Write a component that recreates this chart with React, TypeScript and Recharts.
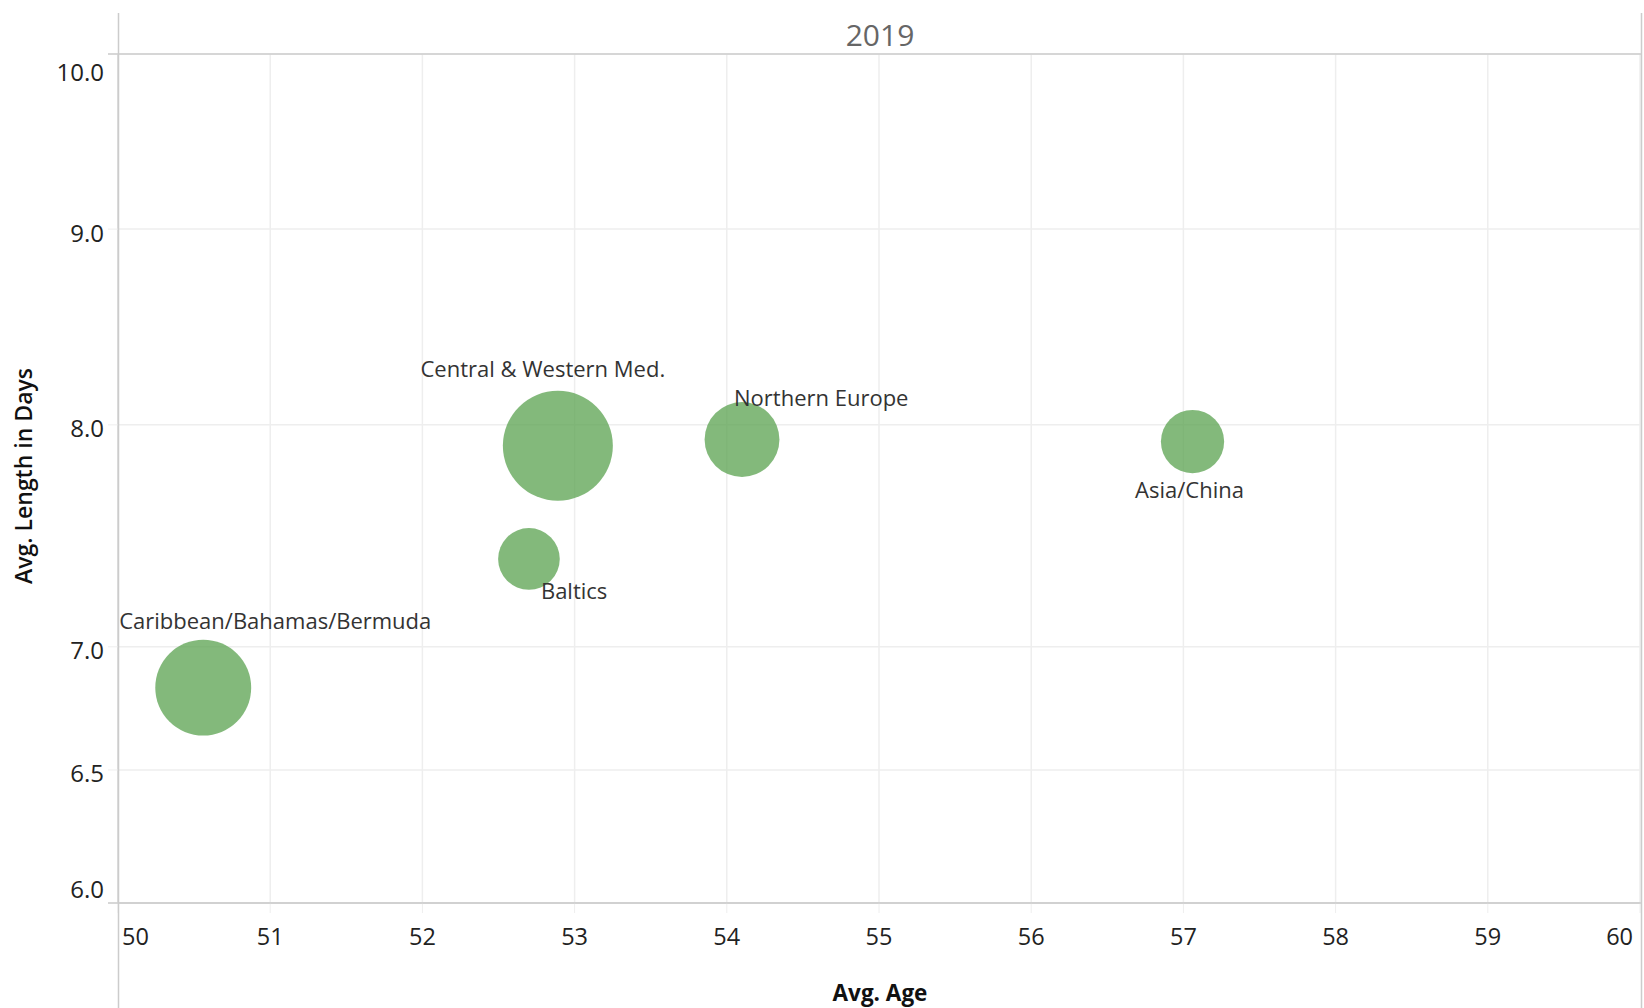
import { ScatterChart, Scatter, XAxis, YAxis, ZAxis, CartesianGrid } from 'recharts'

const regions = [
  'Caribbean/Bahamas/Bermuda',
  'Baltics',
  'Central & Western Med.',
  'Northern Europe',
  'Asia/China',
]
const avgAge = [50.56, 52.7, 52.89, 54.1, 57.06]
const avgLength = [6.83, 7.38, 7.9, 7.93, 7.92]
const cruiseCount = [92, 38, 121, 56, 40]

const xTicks = [50, 51, 52, 53, 54, 55, 56, 57, 58, 59, 60]
const yTicks = [6, 6.5, 7, 8, 9, 10]

const data = regions.map((name, i) => ({
  name,
  age: avgAge[i],
  length: avgLength[i],
  count: cruiseCount[i],
}))

const FONT = '"Open Sans", sans-serif'
const GRID = '#eeeeee'
const FRAME = '#cccccc'

// where Tableau put each mark label, relative to the bubble centre
const labelPlacement: Record<string, { anchor: 'start' | 'middle' | 'end'; dx: number; dy: number }> = {
  'Caribbean/Bahamas/Bermuda': { anchor: 'start', dx: -84, dy: -59 },
  Baltics: { anchor: 'start', dx: 12, dy: 40 },
  'Central & Western Med.': { anchor: 'middle', dx: -15, dy: -69 },
  'Northern Europe': { anchor: 'start', dx: -8, dy: -33 },
  'Asia/China': { anchor: 'middle', dx: -3, dy: 56 },
}

function Bubble(props: any) {
  const { cx, cy, payload } = props
  const r = props.width ? props.width / 2 : Math.sqrt((props.size || 0) / Math.PI)
  const p = labelPlacement[payload.name]
  return (
    <g>
      <circle cx={cx} cy={cy} r={r} fill="#59a14f" fillOpacity={0.75} />
      <text
        x={cx + p.dx}
        y={cy + p.dy}
        textAnchor={p.anchor}
        fontFamily={FONT}
        fontSize={22}
        fill="#333"
      >
        {payload.name}
      </text>
    </g>
  )
}

function XTick({ x, payload }: any) {
  const v = payload.value
  const anchor = v === 50 ? 'start' : v === 60 ? 'end' : 'middle'
  const dx = v === 50 ? 4 : v === 60 ? -3 : 0
  return (
    <text x={x + dx} y={945} textAnchor={anchor} fontFamily={FONT} fontSize={23.5} fill="#222">
      {v}
    </text>
  )
}

function YTick({ x, y, payload }: any) {
  const v = payload.value
  const dy = v === 10 ? 17.5 : v === 6 ? -14.5 : 3
  return (
    <text
      x={x}
      y={y + dy}
      textAnchor="end"
      dominantBaseline="central"
      fontFamily={FONT}
      fontSize={24}
      fill="#222"
    >
      {v.toFixed(1)}
    </text>
  )
}

export default function App() {
  return (
    <div style={{ position: 'absolute', left: 0, top: 0, width: 1644, height: 1008, background: '#fff' }}>
      <ScatterChart width={1644} height={1008} margin={{ top: 54, right: 4, bottom: 0, left: 0 }}>
        <CartesianGrid stroke={GRID} strokeWidth={1.5} />
        <XAxis
          type="number"
          dataKey="age"
          domain={[50, 60]}
          ticks={xTicks}
          height={105}
          tickSize={10}
          tickLine={{ stroke: GRID }}
          axisLine={{ stroke: FRAME }}
          tick={<XTick />}
          allowDataOverflow
        />
        <YAxis
          type="number"
          dataKey="length"
          scale="log"
          domain={[6, 10]}
          ticks={yTicks}
          width={118}
          tickSize={10}
          tickMargin={4}
          tickLine={{ stroke: GRID }}
          axisLine={{ stroke: FRAME }}
          tick={<YTick />}
          allowDataOverflow
        />
        <ZAxis type="number" dataKey="count" domain={[0, 'dataMax']} range={[0, 9503]} />
        <Scatter data={data} shape={<Bubble />} isAnimationActive={false} />
      </ScatterChart>
      <svg
        width={1644}
        height={1008}
        style={{ position: 'absolute', left: 0, top: 0, pointerEvents: 'none' }}
      >
        <line x1={118.5} y1={13} x2={118.5} y2={1008} stroke={FRAME} strokeWidth={1.5} />
        <line x1={1641.5} y1={13} x2={1641.5} y2={1008} stroke={FRAME} strokeWidth={1.5} />
        <line x1={108} y1={54} x2={1642} y2={54} stroke={FRAME} strokeWidth={1.5} />
        <line x1={108} y1={903} x2={1642} y2={903} stroke={FRAME} strokeWidth={1.5} />
        <text x={880} y={46} textAnchor="middle" fontFamily={FONT} fontSize={30} fill="#666">
          2019
        </text>
        <text x={880} y={1001} textAnchor="middle" fontFamily={FONT} fontSize={22.5} fontWeight={700} fill="#111">
          Avg. Age
        </text>
        <text
          x={32}
          y={476}
          textAnchor="middle"
          transform="rotate(-90 32 476)"
          fontFamily={FONT}
          fontSize={23}
          fontWeight={600}
          fill="#111"
        >
          Avg. Length in Days
        </text>
      </svg>
    </div>
  )
}
